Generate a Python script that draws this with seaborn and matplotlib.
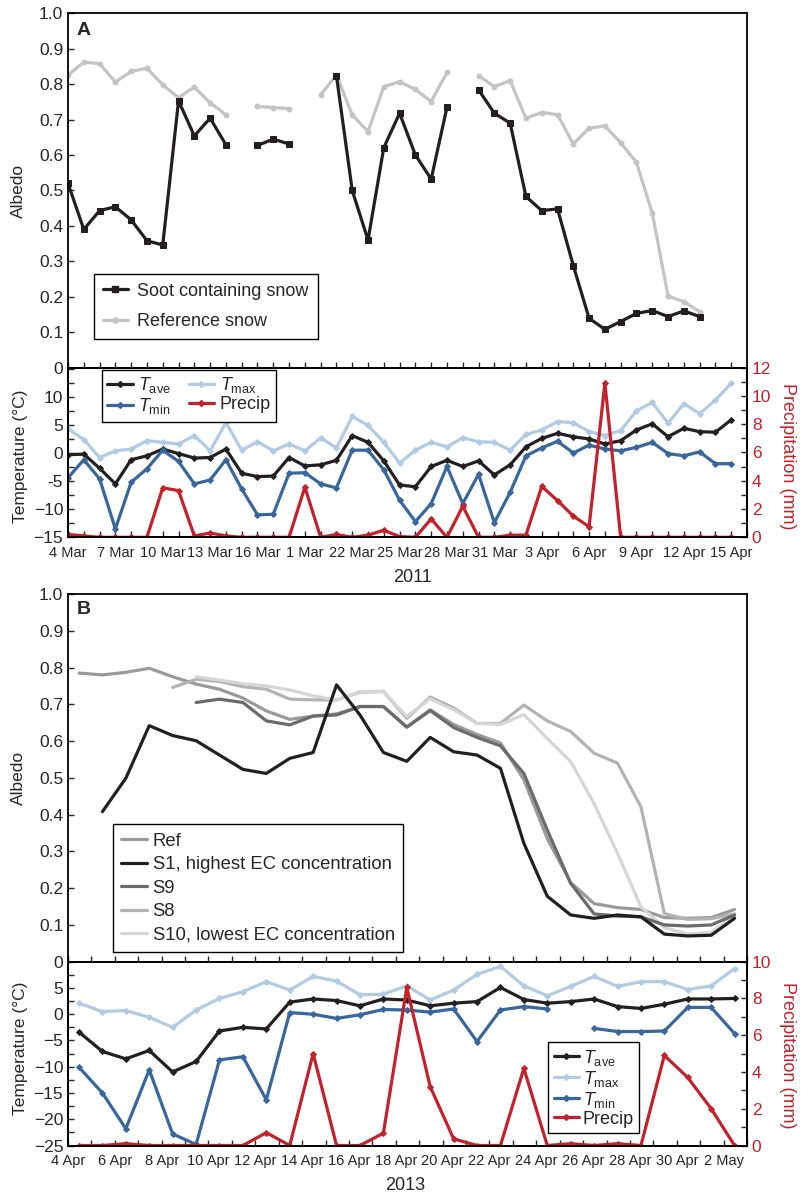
import numpy as np
import pandas as pd
import matplotlib
matplotlib.use("Agg")
import matplotlib.pyplot as plt
import seaborn as sns
from matplotlib.lines import Line2D
from matplotlib.ticker import MultipleLocator
from matplotlib import font_manager as fm

nan = np.nan

# ---------------- Panel A (2011) ----------------
days_a = list(range(43))  # 4 Mar ... 15 Apr
xlabels_a = ['4 Mar', '7 Mar', '10 Mar', '13 Mar', '16 Mar', '1 Mar', '22 Mar', '25 Mar',
             '28 Mar', '31 Mar', '3 Apr', '6 Apr', '9 Apr', '12 Apr', '15 Apr']
soot_a = [0.52, 0.39, 0.443, 0.454, 0.417, 0.358, 0.346, 0.753, 0.654, 0.704, 0.629, nan,
          0.627, 0.645, 0.631, nan, nan, 0.824, 0.50, 0.36, 0.621, 0.718, 0.60, 0.532,
          0.735, nan, 0.784, 0.718, 0.69, 0.483, 0.443, 0.448, 0.288, 0.139, 0.108, 0.13,
          0.153, 0.161, 0.144, 0.16, 0.144, nan, nan]
ref_a = [0.826, 0.862, 0.858, 0.806, 0.836, 0.845, 0.798, 0.762, 0.792, 0.747, 0.714, nan,
         0.737, 0.734, 0.731, nan, 0.77, 0.826, 0.713, 0.666, 0.793, 0.807, 0.785, 0.751,
         0.833, nan, 0.824, 0.793, 0.81, 0.704, 0.72, 0.714, 0.631, 0.676, 0.682, 0.635,
         0.579, 0.436, 0.202, 0.186, 0.158, nan, nan]
tave_a = [-0.3, -0.2, -2.7, -5.5, -1.2, -0.5, 0.7, -0.1, -0.9, -0.8, 0.7,
          -3.6, -4.2, -4.1, -0.8, -2.3, -2.1, -1.3, 3.1, 1.9, -1.4, -5.7,
          -6.0, -2.4, -1.3, -2.4, -1.4, -3.9, -2.1, 1.1, 2.6, 3.5, 2.9,
          2.5, 1.6, 2.2, 4.1, 5.2, 2.9, 4.4, 3.8, 3.7, 5.9]
tmax_a = [4.3, 2.4, -0.8, 0.4, 0.7, 2.2, 1.9, 1.6, 3.1, 0.4, 5.4,
          0.5, 2.0, 0.4, 1.6, 0.4, 2.7, 0.9, 6.5, 4.9, 1.9, -1.8,
          0.5, 1.9, 1.1, 2.7, 2.0, 1.9, 0.5, 3.3, 4.1, 5.6, 5.4,
          3.8, 3.1, 4.0, 7.5, 9.0, 5.3, 8.8, 7.0, 9.4, 12.4]
tmin_a = [-4.4, -1.2, -4.6, -13.5, -5.2, -2.8, 0.5, -1.5, -5.5, -4.8, -1.2,
          -6.4, -11.0, -10.9, -3.6, -3.5, -5.5, -6.2, 0.5, 0.5, -3.0, -8.4,
          -12.2, -9.0, -2.4, -9.0, -3.8, -12.4, -7.0, -0.5, 0.9, 2.1, 0.0,
          1.4, 0.7, 0.4, 1.0, 1.9, -0.1, -0.5, 0.2, -1.9, -1.9]
precip_a = [0.2, 0.1, 0, 0, 0, 0, 3.5, 3.3, 0.1, 0.3, 0.1,
            0, 0, 0, 0, 3.55, 0, 0.2, 0, 0.15, 0.5, 0.05,
            0, 1.3, 0, 2.2, 0, 0, 0.15, 0.15, 3.6, 2.6, 1.5,
            0.75, 10.9, 0, 0, 0, 0, 0, 0, 0, 0]

# ---------------- Panel B (2013) ----------------
days_b = list(range(29))  # 4 Apr ... 2 May (mid-day values)
xlabels_b = ['4 Apr', '6 Apr', '8 Apr', '10 Apr', '12 Apr', '14 Apr', '16 Apr', '18 Apr',
             '20 Apr', '22 Apr', '24 Apr', '26 Apr', '28 Apr', '30 Apr', '2 May']
ref_b = [0.785, 0.78, 0.787, 0.798, 0.775, 0.755, 0.741, 0.717, 0.682, 0.659, 0.668, 0.674,
         0.694, 0.694, 0.638, 0.685, 0.645, 0.618, 0.595, 0.495, 0.335, 0.215, 0.158, 0.147,
         0.142, 0.12, 0.118, 0.12, 0.142]
s1_b = [nan, 0.408, 0.499, 0.642, 0.615, 0.601, 0.562, 0.523, 0.512, 0.553, 0.569, 0.753,
        0.671, 0.569, 0.545, 0.61, 0.571, 0.562, 0.526, 0.322, 0.178, 0.127, 0.118, 0.127,
        0.122, 0.075, 0.07, 0.072, 0.118]
s9_b = [nan, nan, nan, nan, nan, 0.705, 0.714, 0.705, 0.655, 0.644, 0.668, 0.671, 0.694,
        0.694, 0.638, 0.683, 0.637, 0.61, 0.587, 0.512, 0.358, 0.213, 0.13, 0.124, 0.122,
        0.1, 0.097, 0.1, 0.127]
s8_b = [nan, nan, nan, nan, 0.746, 0.768, 0.762, 0.748, 0.741, 0.714, 0.712, 0.712, 0.733,
        0.735, 0.662, 0.72, 0.69, 0.648, 0.648, 0.698, 0.655, 0.626, 0.567, 0.54, 0.421,
        0.131, 0.115, 0.117, 0.13]
s10_b = [nan, nan, nan, nan, nan, 0.775, 0.766, 0.756, 0.75, 0.739, 0.723, 0.712, 0.735,
         0.735, 0.667, 0.715, 0.685, 0.648, 0.645, 0.672, 0.607, 0.544, 0.43, 0.295, 0.149,
         0.093, 0.075, 0.08, 0.125]
tave_b = [-3.4, -7.1, -8.5, -6.9, -11.0, -9.0, -3.2, -2.5, -2.8, 2.3, 2.9, 2.6, 1.6, 2.9,
          2.7, 1.6, 2.1, 2.4, 5.1, 2.8, 2.1, 2.4, 2.9, 1.45, 1.1, 1.9, 2.9, 2.9, 3.0]
tmax_b = [2.1, 0.5, 0.7, -0.6, -2.5, 0.8, 3.0, 4.3, 6.2, 4.6, 7.2, 6.3, 3.7, 3.8,
          5.4, 2.7, 4.6, 7.6, 9.1, 5.4, 3.5, 5.3, 7.2, 5.3, 6.2, 6.2, 4.7, 5.4, 8.7]
tmin_b = [-10.1, -15.0, -21.8, -10.6, -22.8, -24.8, -8.7, -8.1, -16.3, 0.3, 0.0, -0.8, -0.1,
          0.9, 0.8, 0.4, 1.0, -5.2, 0.8, 1.45, 1.0, nan, -2.7, -3.3, -3.3, -3.2, 1.3, 1.3, -3.7]
precip_b = [0, 0, 0.1, 0, 0, 0, 0, 0, 0.7, 0, 5.0, 0, 0, 0.67, 8.6, 3.2, 0.36, 0, 0, 4.2,
            0, 0.1, 0, 0.1, 0, 4.9, 3.7, 2.0, 0]

albedo_ticks = [0, 0.1, 0.2, 0.3, 0.4, 0.5, 0.6, 0.7, 0.8, 0.9, 1.0]
albedo_ticklabels = ['0', '0.1', '0.2', '0.3', '0.4', '0.5', '0.6', '0.7', '0.8', '0.9', '1.0']

# ---------------- style ----------------
sns.set_style("ticks")


def has_font(name):
    try:
        fm.findfont(fm.FontProperties(family=name), fallback_to_default=False)
        return True
    except Exception:
        return False


plt.rcParams['font.family'] = ['Liberation Sans', 'DejaVu Sans']
plt.rcParams['mathtext.fontset'] = 'custom'
plt.rcParams['mathtext.rm'] = 'Liberation Sans'
plt.rcParams['mathtext.it'] = 'Liberation Sans:italic'
plt.rcParams['axes.linewidth'] = 1.3
plt.rcParams['axes.unicode_minus'] = False

NARROW = 'Liberation Sans Narrow' if has_font('Liberation Sans Narrow') else None
XT_FS = 12 if NARROW else 10.5
XT_FAM = [NARROW, 'Liberation Sans'] if NARROW else ['Liberation Sans']

C_BLACK = '#231f20'
C_TMAX = '#b2cbe5'
C_TMIN = '#37679c'
C_RED = '#c4212b'
C_REFA = '#c4c4c4'
C_REF = '#9a9a9a'
C_S9 = '#6b6b6d'
C_S8 = '#b3b3b3'
C_S10 = '#d6d6d6'

TFS = 12.5   # tick label size


def segplot(ax, x, y, **kw):
    df = pd.DataFrame({'x': np.asarray(x, float), 'y': np.asarray(y, float)})
    df['seg'] = df['y'].isna().cumsum()
    df = df.dropna()
    sns.lineplot(data=df, x='x', y='y', units='seg', estimator=None, sort=False,
                 ax=ax, legend=False, **kw)
    ax.set_xlabel('')
    ax.set_ylabel('')


fig = plt.figure(figsize=(8.11, 11.97), dpi=100)


def rect(top, bottom):
    return [68 / 811, 1 - bottom / 1197, 679 / 811, (bottom - top) / 1197]


axA = fig.add_axes(rect(13.3, 367.6))
axAt = fig.add_axes(rect(367.6, 537.3))
axAp = axAt.twinx()
axB = fig.add_axes(rect(594.0, 961.7))
axBt = fig.add_axes(rect(961.7, 1145.5))
axBp = axBt.twinx()

LW = 2.3
LEGKW = dict(frameon=True, fancybox=False, edgecolor='black', framealpha=1,
             borderaxespad=0.0, numpoints=1)
YLX = -0.062     # left y-label position (axes fraction)
YRX = 1.072      # right y-label position

# ---------- Panel A albedo ----------
xa = np.array(days_a, float)
segplot(axA, xa, ref_a, color=C_REFA, lw=LW, marker='o', ms=3.5, mec=C_REFA, mfc=C_REFA)
segplot(axA, xa, soot_a, color=C_BLACK, lw=LW, marker='s', ms=4.5, mec=C_BLACK, mfc=C_BLACK)
axA.set_xlim(0, 43)
axA.set_ylim(0, 1.0)
axA.set_yticks(albedo_ticks)
axA.set_yticklabels(albedo_ticklabels)
axA.set_xticks(days_a)
axA.set_xticklabels([])
axA.tick_params(axis='both', direction='in', length=4, width=1, labelsize=TFS)
axA.set_ylabel('Albedo', fontsize=12.5)
axA.yaxis.set_label_coords(YLX, 0.5)
axA.text(0.013, 0.975, 'A', transform=axA.transAxes, fontsize=14, fontweight='bold',
         va='top', ha='left')
hA = [Line2D([], [], color=C_BLACK, lw=LW, marker='s', ms=4.5),
      Line2D([], [], color=C_REFA, lw=LW, marker='o', ms=3.5)]
legA = axA.legend(hA, ['Soot containing snow', 'Reference snow'], loc='lower left',
                  bbox_to_anchor=(0.038, 0.08), fontsize=13, handlelength=1.4,
                  handletextpad=0.5, labelspacing=0.75, borderpad=0.5, **LEGKW)
legA.get_frame().set_linewidth(1.0)

# ---------- Panel A temperature / precip ----------
segplot(axAt, xa, tmax_a, color=C_TMAX, lw=LW, marker='D', ms=3, mec=C_TMAX, mfc=C_TMAX)
segplot(axAt, xa, tave_a, color=C_BLACK, lw=LW, marker='D', ms=3, mec=C_BLACK, mfc=C_BLACK)
segplot(axAt, xa, tmin_a, color=C_TMIN, lw=LW, marker='D', ms=3, mec=C_TMIN, mfc=C_TMIN)
segplot(axAp, xa, precip_a, color=C_RED, lw=LW, marker='D', ms=3, mec=C_RED, mfc=C_RED)
axAt.set_xlim(0, 43)
axAt.set_ylim(-15, 15.2)
axAt.set_yticks([-15, -10, -5, 0, 5, 10])
axAt.set_yticklabels(['\u221215', '\u221210', '-5', '0', '5', '10'])
axAt.yaxis.set_minor_locator(MultipleLocator(2.5))
axAt.set_xticks(list(range(0, 43, 3)))
axAt.set_xticklabels(xlabels_a, fontsize=XT_FS, family=XT_FAM)
axAt.xaxis.set_minor_locator(MultipleLocator(1))
axAt.tick_params(axis='both', which='both', direction='in', length=4, width=1, labelsize=TFS)
axAt.tick_params(axis='x', which='both', labelsize=XT_FS, pad=6)
axAt.set_ylabel('Temperature (\u00b0C)', fontsize=12.5)
axAt.yaxis.set_label_coords(YLX + 0.003, 0.48)
axAp.set_ylim(0, 12)
axAp.set_yticks(range(0, 13, 2))
axAp.yaxis.set_minor_locator(MultipleLocator(1))
axAp.tick_params(axis='y', which='both', direction='in', length=4, width=1,
                 labelsize=TFS, labelcolor=C_RED)
axAp.set_ylabel('Precipitation (mm)', fontsize=13, color=C_RED, rotation=270)
axAp.yaxis.set_label_coords(YRX, 0.48)
hT = [Line2D([], [], color=C_BLACK, lw=LW, marker='D', ms=3),
      Line2D([], [], color=C_TMIN, lw=LW, marker='D', ms=3),
      Line2D([], [], color=C_TMAX, lw=LW, marker='D', ms=3),
      Line2D([], [], color=C_RED, lw=LW, marker='D', ms=3)]
legAt = axAp.legend(hT, [r'$\it{T}_{\rm ave}$', r'$\it{T}_{\rm min}$', r'$\it{T}_{\rm max}$', 'Precip'],
                    ncol=2, loc='upper left', bbox_to_anchor=(0.05, 0.986), fontsize=13,
                    handlelength=1.4, handletextpad=0.3, labelspacing=0.05,
                    columnspacing=1.0, borderpad=0.3, **LEGKW)
legAt.get_frame().set_linewidth(1.0)

# ---------- Panel B albedo ----------
xb = np.array(days_b, float) + 0.47
segplot(axB, xb, ref_b, color=C_REF, lw=LW)
segplot(axB, xb, s8_b, color=C_S8, lw=LW)
segplot(axB, xb, s10_b, color=C_S10, lw=LW)
segplot(axB, xb, s9_b, color=C_S9, lw=LW)
segplot(axB, xb, s1_b, color=C_BLACK, lw=LW)
axB.set_xlim(0, 29)
axB.set_ylim(0, 1.0)
axB.set_yticks(albedo_ticks)
axB.set_yticklabels(albedo_ticklabels)
axB.set_xticks(range(0, 30))
axB.set_xticklabels([])
axB.tick_params(axis='both', direction='in', length=4, width=1, labelsize=TFS)
axB.set_ylabel('Albedo', fontsize=12.5)
axB.yaxis.set_label_coords(YLX, 0.5)
axB.text(0.013, 0.982, 'B', transform=axB.transAxes, fontsize=14, fontweight='bold',
         va='top', ha='left')
hB = [Line2D([], [], color=c, lw=LW) for c in [C_REF, C_BLACK, C_S9, C_S8, C_S10]]
legB = axB.legend(hB, ['Ref', 'S1, highest EC concentration', 'S9', 'S8',
                       'S10, lowest EC concentration'],
                  loc='lower left', bbox_to_anchor=(0.066, 0.027), fontsize=13.3,
                  handlelength=1.4, handletextpad=0.3, labelspacing=0.35, borderpad=0.45,
                  **LEGKW)
legB.get_frame().set_linewidth(1.0)

# ---------- Panel B temperature / precip ----------
segplot(axBt, xb, tmax_b, color=C_TMAX, lw=LW, marker='D', ms=3, mec=C_TMAX, mfc=C_TMAX)
segplot(axBt, xb, tave_b, color=C_BLACK, lw=LW, marker='D', ms=3, mec=C_BLACK, mfc=C_BLACK)
segplot(axBt, xb, tmin_b, color=C_TMIN, lw=LW, marker='D', ms=3, mec=C_TMIN, mfc=C_TMIN)
segplot(axBp, xb, precip_b, color=C_RED, lw=LW, marker='D', ms=3, mec=C_RED, mfc=C_RED)
axBt.set_xlim(0, 29)
axBt.set_ylim(-25, 10)
axBt.set_yticks([-25, -20, -15, -10, -5, 0, 5])
axBt.set_yticklabels(['\u221225', '\u221220', '\u221215', '\u221210', '\u22125', '0', '5'])
axBt.yaxis.set_minor_locator(MultipleLocator(2.5))
axBt.set_xticks(list(range(0, 29, 2)))
axBt.set_xticklabels(xlabels_b, fontsize=XT_FS, family=XT_FAM)
axBt.xaxis.set_minor_locator(MultipleLocator(1))
axBt.tick_params(axis='both', which='both', direction='in', length=4, width=1, labelsize=TFS)
axBt.tick_params(axis='x', which='both', labelsize=XT_FS, pad=6)
axBt.set_ylabel('Temperature (\u00b0C)', fontsize=12.5)
axBt.yaxis.set_label_coords(YLX + 0.003, 0.53)
axBp.set_ylim(0, 10)
axBp.set_yticks(range(0, 11, 2))
axBp.yaxis.set_minor_locator(MultipleLocator(1))
axBp.tick_params(axis='y', which='both', direction='in', length=4, width=1,
                 labelsize=TFS, labelcolor=C_RED)
axBp.set_ylabel('Precipitation (mm)', fontsize=13, color=C_RED, rotation=270)
axBp.yaxis.set_label_coords(YRX, 0.49)
hTB = [Line2D([], [], color=C_BLACK, lw=LW, marker='D', ms=3),
       Line2D([], [], color=C_TMAX, lw=LW, marker='D', ms=3),
       Line2D([], [], color=C_TMIN, lw=LW, marker='D', ms=3),
       Line2D([], [], color=C_RED, lw=LW, marker='D', ms=3)]
legBt = axBp.legend(hTB, [r'$\it{T}_{\rm ave}$', r'$\it{T}_{\rm max}$', r'$\it{T}_{\rm min}$', 'Precip'],
                    loc='upper left', bbox_to_anchor=(0.7075, 0.561), fontsize=13,
                    handlelength=1.4, handletextpad=0.2, labelspacing=0.05,
                    borderpad=0.3, **LEGKW)
legBt.get_frame().set_linewidth(1.0)

for ax in (axA, axAt, axAp, axB, axBt, axBp):
    for s in ax.spines.values():
        s.set_visible(True)
        s.set_color('black')
        s.set_linewidth(1.3)

fig.text(413 / 811, 1 - 577 / 1197, '2011', ha='center', va='center', fontsize=13)
fig.text(405 / 811, 1 - 1185 / 1197, '2013', ha='center', va='center', fontsize=13)

fig.savefig('out.png', dpi=100)
